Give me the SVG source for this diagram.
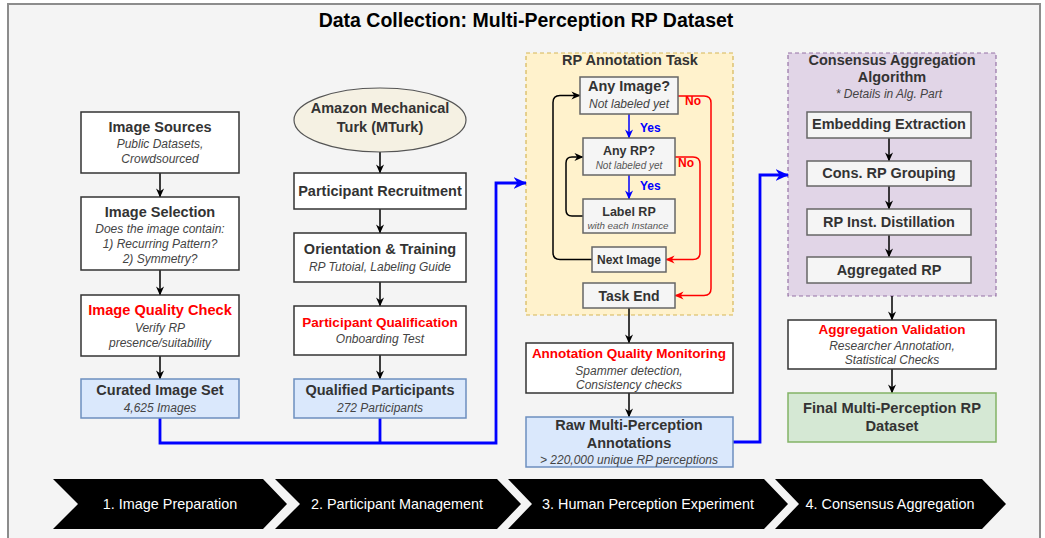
<svg xmlns="http://www.w3.org/2000/svg" width="1045" height="538" viewBox="0 0 1045 538">
  <style>
    .frame { fill: #f4f4f4; stroke: #8c8c8c; stroke-width: 2; }
    .box { fill: #ffffff; stroke: #333333; stroke-width: 1.5; }
    .gbox { fill: #f5f5f5; stroke: #666666; stroke-width: 1.5; }
    .bbox { fill: #dae8fc; stroke: #6c8ebf; stroke-width: 1.5; }
    .grbox { fill: #d5e8d4; stroke: #82b366; stroke-width: 1.5; }
    .oval { fill: #f5f1e3; stroke: #555555; stroke-width: 1.2; }
    .ann { fill: #fff2cc; stroke: #d6b656; stroke-width: 1.2; stroke-dasharray: 4 3; }
    .alg { fill: #e1d5e7; stroke: #9673a6; stroke-width: 1.2; stroke-dasharray: 4 3; }
    text { font-family: "Liberation Sans", Arial, sans-serif; text-anchor: middle; }
    .h { font-weight: bold; font-size: 14.5px; fill: #333333; }
    .hr { font-weight: bold; font-size: 13.5px; fill: #ff0000; }
    .s { font-style: italic; font-size: 12px; fill: #444444; }
    .xs { font-style: italic; font-size: 10px; fill: #555555; }
    .yes { font-weight: bold; font-size: 12px; fill: #0000ff; text-anchor: start; }
    .no { font-weight: bold; font-size: 12px; fill: #ff0000; text-anchor: start; }
    .step { font-size: 14.4px; fill: #ffffff; }
    .lk { fill: none; stroke: #000000; stroke-width: 1.5; }
    .lb { fill: none; stroke: #0000ff; stroke-width: 1.5; }
    .lbb { fill: none; stroke: #0000ff; stroke-width: 2.8; }
    .lr { fill: none; stroke: #ff0000; stroke-width: 1.5; }
  </style>
  <defs>
    <marker id="ak" viewBox="0 0 10 10" refX="9.5" refY="5" markerWidth="9" markerHeight="9" markerUnits="userSpaceOnUse" orient="auto">
      <path d="M0,0.5 L10,5 L0,9.5 L3,5 z" fill="#000000"/>
    </marker>
    <marker id="ab" viewBox="0 0 10 10" refX="9.5" refY="5" markerWidth="9" markerHeight="9" markerUnits="userSpaceOnUse" orient="auto">
      <path d="M0,0.5 L10,5 L0,9.5 L3,5 z" fill="#0000ff"/>
    </marker>
    <marker id="abb" viewBox="0 0 10 10" refX="9.5" refY="5" markerWidth="13" markerHeight="13" markerUnits="userSpaceOnUse" orient="auto">
      <path d="M0,0.5 L10,5 L0,9.5 L3,5 z" fill="#0000ff"/>
    </marker>
    <marker id="ar" viewBox="0 0 10 10" refX="9.5" refY="5" markerWidth="9" markerHeight="9" markerUnits="userSpaceOnUse" orient="auto">
      <path d="M0,0.5 L10,5 L0,9.5 L3,5 z" fill="#ff0000"/>
    </marker>
  </defs>

  <!-- outer panel and title -->
  <rect class="frame" x="8" y="4" width="1032" height="540"/>
  <text x="526" y="27" style="font-weight:bold;font-size:19.5px;fill:#000">Data Collection: Multi-Perception RP Dataset</text>

  <!-- containers -->
  <g id="annotation-task">
    <rect class="ann" x="526" y="53" width="207" height="262"/>
    <text class="h" x="630" y="65">RP Annotation Task</text>
  </g>
  <g id="consensus-algorithm">
    <rect class="alg" x="788" y="53" width="208" height="243"/>
    <text class="h" x="892" y="65">Consensus Aggregation</text>
    <text class="h" x="892" y="82">Algorithm</text>
    <text class="s" x="889" y="98">* Details in Alg. Part</text>
  </g>

  <!-- connectors -->
  <g id="connectors">
    <!-- image preparation -->
    <path class="lk" d="M160,173 V197" marker-end="url(#ak)"/>
    <path class="lk" d="M160,270 V295" marker-end="url(#ak)"/>
    <path class="lk" d="M160,356 V379" marker-end="url(#ak)"/>
    <!-- participant management -->
    <path class="lk" d="M380,152 V173" marker-end="url(#ak)"/>
    <path class="lk" d="M380,209 V233" marker-end="url(#ak)"/>
    <path class="lk" d="M380,282 V306" marker-end="url(#ak)"/>
    <path class="lk" d="M380,355 V379" marker-end="url(#ak)"/>
    <!-- inputs into the annotation task -->
    <path class="lbb" d="M160,418 V443 H496 V183 H526" marker-end="url(#abb)"/>
    <path class="lbb" d="M380,418 V443"/>
    <!-- annotation loop -->
    <path class="lb" d="M629,114 V138" marker-end="url(#ab)"/>
    <path class="lb" d="M629,175 V199" marker-end="url(#ab)"/>
    <path class="lk" d="M592,259.5 H560 Q553,259.5 553,252.5 V102.5 Q553,95.5 560,95.5 H580" marker-end="url(#ak)"/>
    <path class="lk" d="M583,216 H572 Q566,216 566,210 V163 Q566,157 572,157 H583" marker-end="url(#ak)"/>
    <path class="lr" d="M678,96 H704 Q711,96 711,103 V288.5 Q711,295.5 704,295.5 H675" marker-end="url(#ar)"/>
    <path class="lr" d="M675,157 H693 Q700,157 700,164 V252.5 Q700,259.5 693,259.5 H666" marker-end="url(#ar)"/>
    <text class="yes" x="640" y="132">Yes</text>
    <text class="yes" x="640" y="190">Yes</text>
    <text class="no" x="685" y="105">No</text>
    <text class="no" x="678" y="167">No</text>
    <!-- annotation outputs -->
    <path class="lk" d="M629,308 V343" marker-end="url(#ak)"/>
    <path class="lk" d="M629,393 V417" marker-end="url(#ak)"/>
    <path class="lbb" d="M733,442 H760 V175 H788" marker-end="url(#abb)"/>
    <!-- consensus aggregation -->
    <path class="lk" d="M889,138 V161" marker-end="url(#ak)"/>
    <path class="lk" d="M889,186 V209" marker-end="url(#ak)"/>
    <path class="lk" d="M889,235 V257" marker-end="url(#ak)"/>
    <path class="lk" d="M892,296 V320" marker-end="url(#ak)"/>
    <path class="lk" d="M892,369 V393" marker-end="url(#ak)"/>
  </g>

  <!-- column 1: image preparation -->
  <g id="image-sources">
    <rect class="box" x="81" y="112" width="158" height="61"/>
    <text class="h" x="160" y="132">Image Sources</text>
    <text class="s" x="160" y="148">Public Datasets,</text>
    <text class="s" x="160" y="163">Crowdsourced</text>
  </g>
  <g id="image-selection">
    <rect class="box" x="81" y="197" width="158" height="73"/>
    <text class="h" x="160" y="217">Image Selection</text>
    <text class="s" x="160" y="233">Does the image contain:</text>
    <text class="s" x="160" y="248">1) Recurring Pattern?</text>
    <text class="s" x="160" y="263">2) Symmetry?</text>
  </g>
  <g id="image-quality-check">
    <rect class="box" x="81" y="295" width="158" height="61"/>
    <text class="hr" x="160" y="315" style="font-size:14.6px">Image Quality Check</text>
    <text class="s" x="160" y="332">Verify RP</text>
    <text class="s" x="160" y="347">presence/suitability</text>
  </g>
  <g id="curated-image-set">
    <rect class="bbox" x="81" y="379" width="158" height="39"/>
    <text class="h" x="160" y="395">Curated Image Set</text>
    <text class="s" x="160" y="412">4,625 Images</text>
  </g>

  <!-- column 2: participant management -->
  <g id="mturk">
    <ellipse class="oval" cx="380" cy="120" rx="86" ry="32"/>
    <text class="h" x="380" y="113">Amazon Mechanical</text>
    <text class="h" x="380" y="132">Turk (MTurk)</text>
  </g>
  <g id="participant-recruitment">
    <rect class="box" x="294" y="173" width="172" height="36"/>
    <text class="h" x="380" y="196">Participant Recruitment</text>
  </g>
  <g id="orientation-training">
    <rect class="box" x="294" y="233" width="172" height="49"/>
    <text class="h" x="380" y="254">Orientation &amp; Training</text>
    <text class="s" x="380" y="271">RP Tutoial, Labeling Guide</text>
  </g>
  <g id="participant-qualification">
    <rect class="box" x="294" y="306" width="172" height="49"/>
    <text class="hr" x="380" y="327">Participant Qualification</text>
    <text class="s" x="380" y="343">Onboarding Test</text>
  </g>
  <g id="qualified-participants">
    <rect class="bbox" x="294" y="379" width="172" height="39"/>
    <text class="h" x="380" y="395">Qualified Participants</text>
    <text class="s" x="380" y="412">272 Participants</text>
  </g>

  <!-- column 3: annotation task -->
  <g id="any-image">
    <rect class="gbox" x="580" y="77" width="98" height="37"/>
    <text class="h" x="629" y="91">Any Image?</text>
    <text class="s" x="629" y="108">Not labeled yet</text>
  </g>
  <g id="any-rp">
    <rect class="gbox" x="583" y="138" width="92" height="37"/>
    <text class="h" x="629" y="155" style="font-size:12.5px">Any RP?</text>
    <text class="xs" x="629" y="169">Not labeled yet</text>
  </g>
  <g id="label-rp">
    <rect class="gbox" x="583" y="199" width="92" height="34"/>
    <text class="h" x="629" y="216" style="font-size:12.5px">Label RP</text>
    <text class="xs" x="628" y="229" style="font-size:9.8px">with each Instance</text>
  </g>
  <g id="next-image">
    <rect class="gbox" x="592" y="247" width="74" height="25"/>
    <text class="h" x="629" y="264" style="font-size:12px">Next Image</text>
  </g>
  <g id="task-end">
    <rect class="gbox" x="583" y="283" width="92" height="25"/>
    <text class="h" x="629" y="301" style="font-size:14px">Task End</text>
  </g>
  <g id="annotation-quality">
    <rect class="box" x="526" y="343" width="207" height="50"/>
    <text class="hr" x="629" y="358">Annotation Quality Monitoring</text>
    <text class="s" x="629" y="375">Spammer detection,</text>
    <text class="s" x="629" y="389">Consistency checks</text>
  </g>
  <g id="raw-annotations">
    <rect class="bbox" x="526" y="417" width="207" height="50"/>
    <text class="h" x="629" y="430">Raw Multi-Perception</text>
    <text class="h" x="629" y="448">Annotations</text>
    <text class="s" x="629" y="464">&gt; 220,000 unique RP perceptions</text>
  </g>

  <!-- column 4: consensus aggregation -->
  <g id="embedding-extraction">
    <rect class="gbox" x="807" y="112" width="164" height="26"/>
    <text class="h" x="889" y="129">Embedding Extraction</text>
  </g>
  <g id="rp-grouping">
    <rect class="gbox" x="807" y="161" width="164" height="25"/>
    <text class="h" x="889" y="178">Cons. RP Grouping</text>
  </g>
  <g id="instance-distillation">
    <rect class="gbox" x="807" y="209" width="164" height="26"/>
    <text class="h" x="889" y="227">RP Inst. Distillation</text>
  </g>
  <g id="aggregated-rp">
    <rect class="gbox" x="807" y="257" width="164" height="26"/>
    <text class="h" x="889" y="275">Aggregated RP</text>
  </g>
  <g id="aggregation-validation">
    <rect class="box" x="788" y="320" width="208" height="49"/>
    <text class="hr" x="892" y="334">Aggregation Validation</text>
    <text class="s" x="892" y="350">Researcher Annotation,</text>
    <text class="s" x="892" y="364">Statistical Checks</text>
  </g>
  <g id="final-dataset">
    <rect class="grbox" x="788" y="393" width="208" height="49"/>
    <text class="h" x="892" y="413" style="font-size:14.7px">Final Multi-Perception RP</text>
    <text class="h" x="892" y="431" style="font-size:14.7px">Dataset</text>
  </g>

  <!-- phase banner -->
  <g id="phase-1">
    <path d="M53,479 H263 L287,504 L263,529 H53 L78,504 Z" fill="#000000"/>
    <text class="step" x="170" y="509">1. Image Preparation</text>
  </g>
  <g id="phase-2">
    <path d="M275,479 H497 L521,504 L497,529 H275 L300,504 Z" fill="#000000"/>
    <text class="step" x="397" y="509">2. Participant Management</text>
  </g>
  <g id="phase-3">
    <path d="M508,479 H764 L788,504 L764,529 H508 L532,504 Z" fill="#000000"/>
    <text class="step" x="648" y="509">3. Human Perception Experiment</text>
  </g>
  <g id="phase-4">
    <path d="M775,479 H982 L1006,504 L982,529 H775 L799,504 Z" fill="#000000"/>
    <text class="step" x="890" y="509">4. Consensus Aggregation</text>
  </g>
</svg>
